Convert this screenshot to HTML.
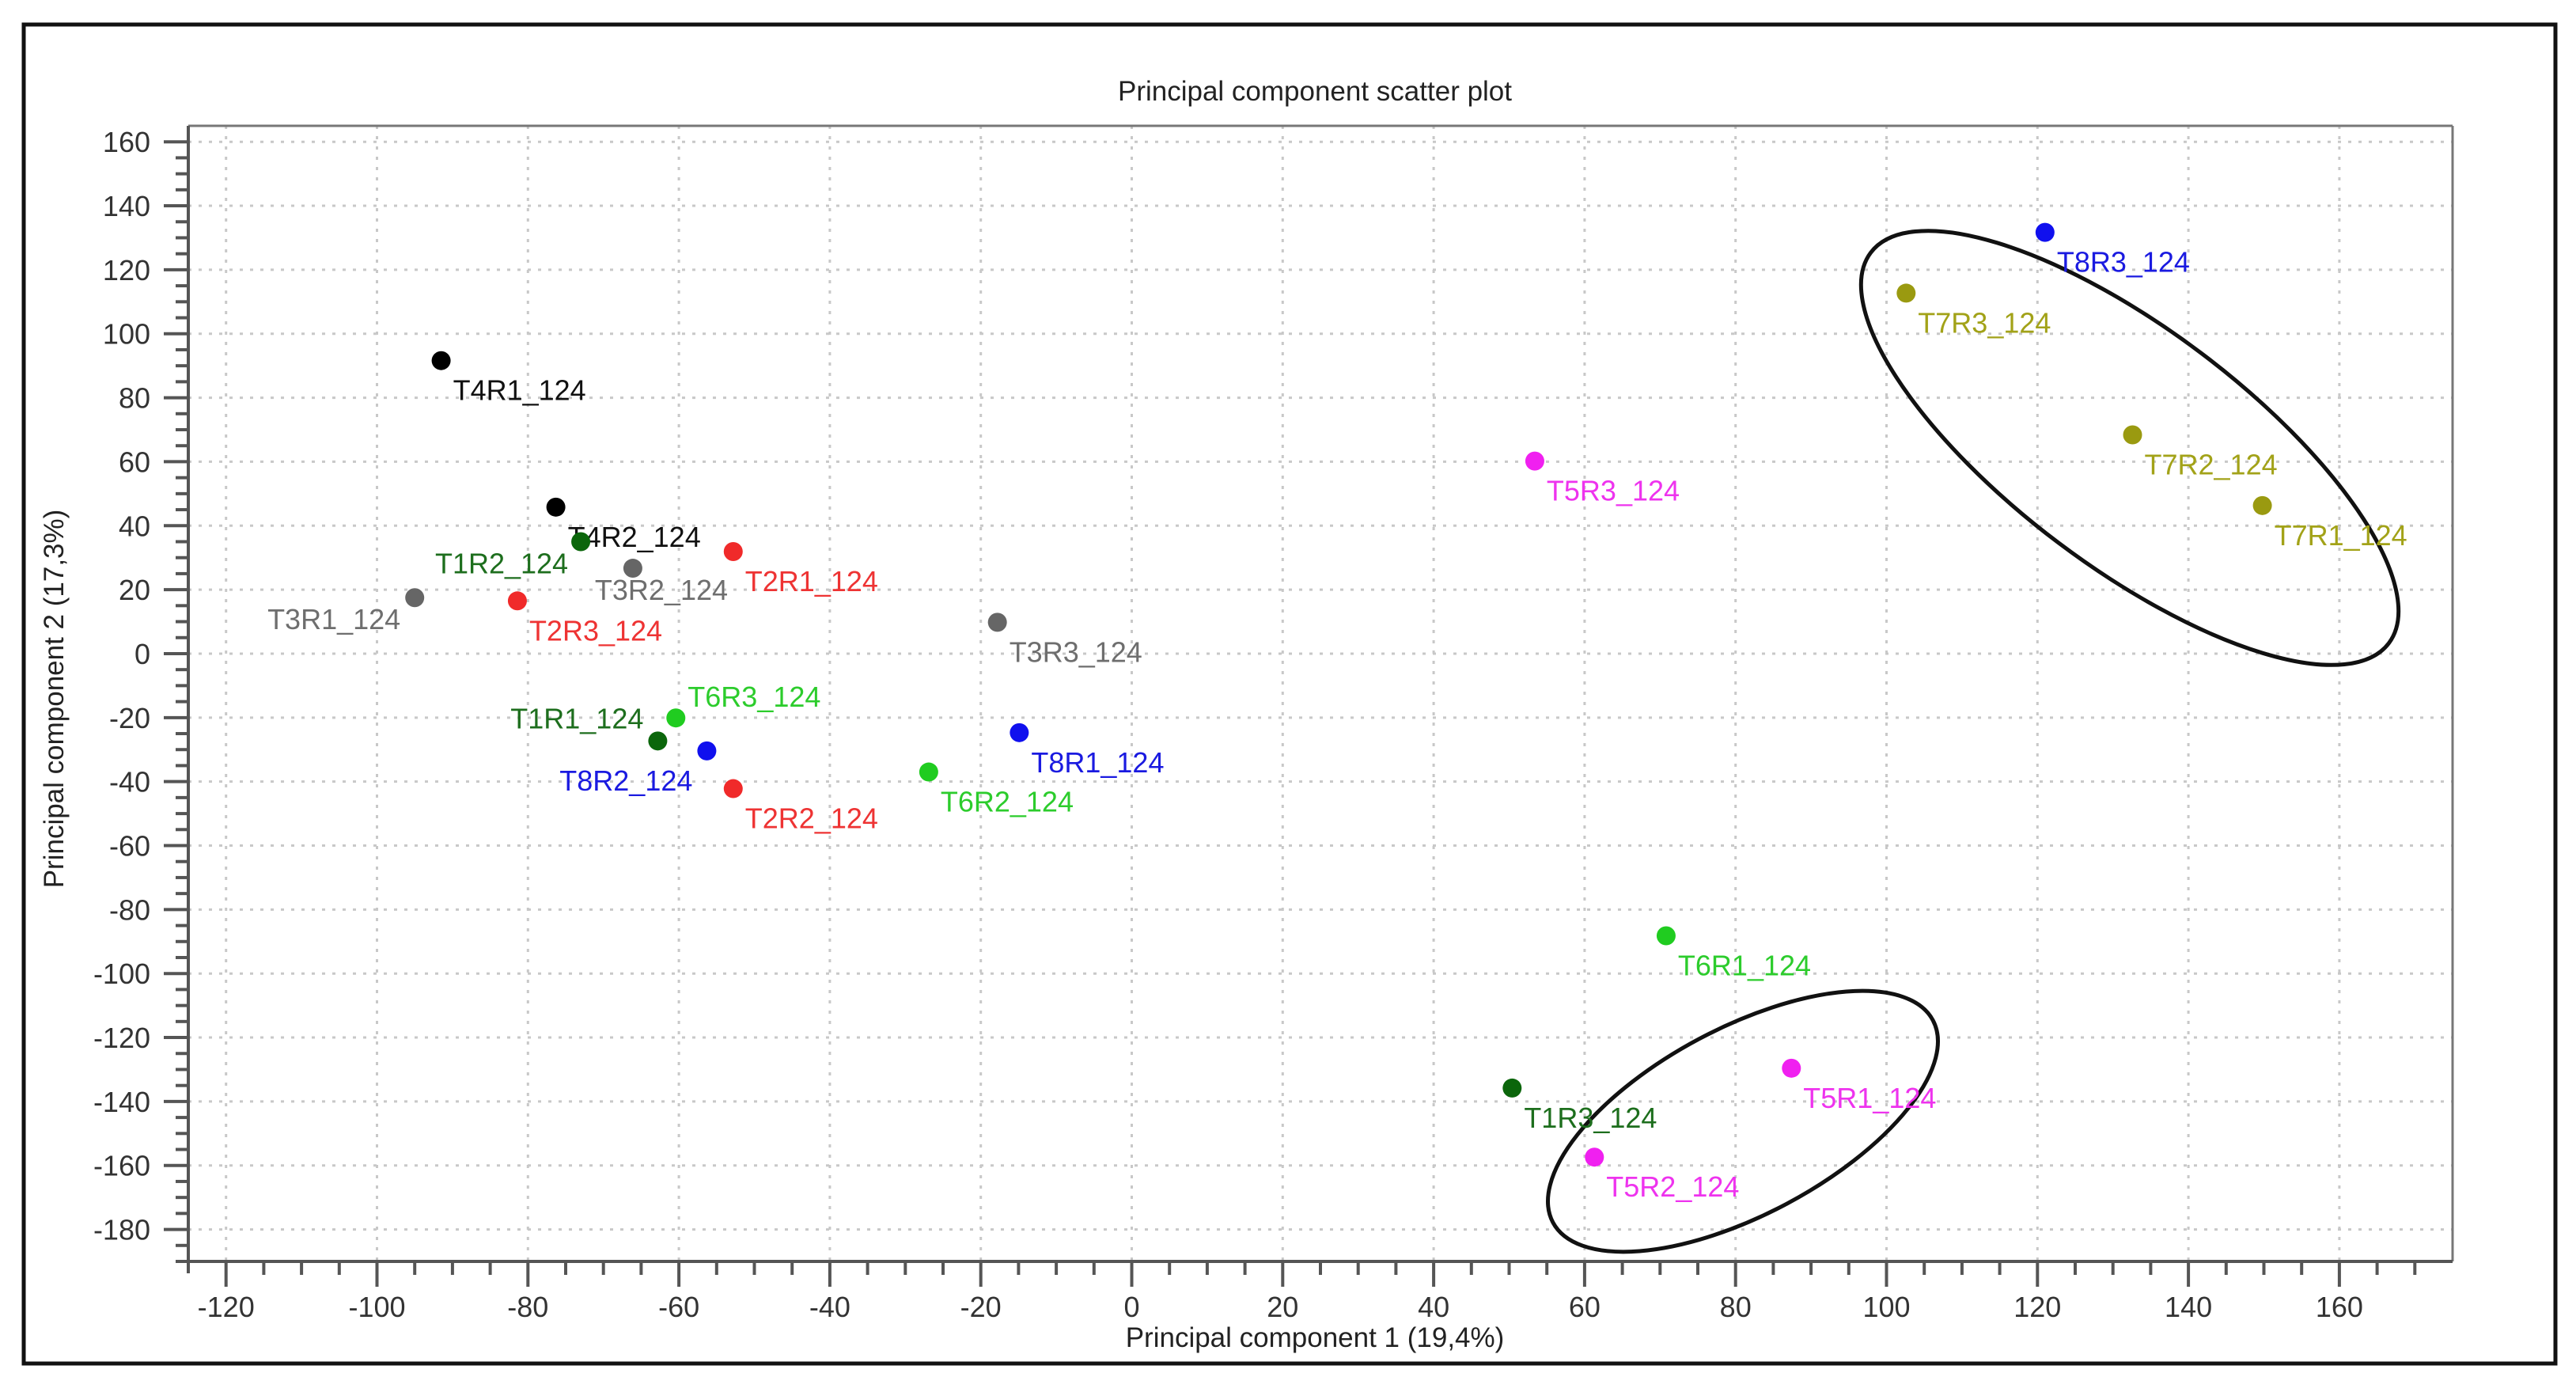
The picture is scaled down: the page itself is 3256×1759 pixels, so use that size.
<!DOCTYPE html>
<html><head><meta charset="utf-8">
<style>
html,body{margin:0;padding:0;background:#fff;}
svg{display:block;font-family:"Liberation Sans",Arial,sans-serif;}
</style></head>
<body>
<svg id="chart" width="3256" height="1759" viewBox="0 0 3256 1759" xmlns="http://www.w3.org/2000/svg">
  <rect x="0" y="0" width="3256" height="1759" fill="#fff"/>
  <rect x="30" y="31" width="3200" height="1692" fill="none" stroke="#111" stroke-width="5"/>
  <text x="1662" y="127" font-size="35" fill="#222" text-anchor="middle">Principal component scatter plot</text>
  <g id="grid"></g>
  <g id="axes"></g>
  <g id="ellipses"></g>
  <g id="points"></g>
  <text x="1662" y="1702" font-size="35" fill="#222" text-anchor="middle">Principal component 1 (19,4%)</text>
  <text x="0" y="0" font-size="35" fill="#222" text-anchor="middle" transform="translate(80,883) rotate(-90)">Principal component 2 (17,3%)</text>
</svg>
<script>
const sampleNames = ["T4R1_124","T4R2_124","T1R2_124","T3R2_124","T2R1_124","T3R1_124","T2R3_124","T3R3_124","T6R3_124","T1R1_124","T8R2_124","T2R2_124","T6R2_124","T8R1_124","T5R3_124","T8R3_124","T7R3_124","T7R2_124","T7R1_124","T6R1_124","T1R3_124","T5R1_124","T5R2_124"];
const pc1Values = [-91.5,-76.3,-73.0,-66.1,-52.8,-95.0,-81.4,-17.8,-60.4,-62.8,-56.3,-52.8,-26.9,-14.9,53.4,121.0,102.6,132.6,149.8,70.8,50.4,87.4,61.3];
const pc2Values = [91.6,45.8,35.0,26.7,31.9,17.5,16.5,9.8,-20.1,-27.3,-30.4,-42.2,-37.0,-24.7,60.2,131.7,112.7,68.4,46.3,-88.2,-135.8,-129.6,-157.4];
const groupNames = ["T4","T4","T1","T3","T2","T3","T2","T3","T6","T1","T8","T2","T6","T8","T5","T8","T7","T7","T7","T6","T1","T5","T5"];
const xTickValues = [-120,-100,-80,-60,-40,-20,0,20,40,60,80,100,120,140,160];
const yTickValues = [160,140,120,100,80,60,40,20,0,-20,-40,-60,-80,-100,-120,-140,-160,-180];
const xDomain = [-125,175];
const yDomain = [-190,165];
const ellipseCenters = [[curveX(2692),curveY(566)],[curveX(2203),curveY(1417)]];
function curveX(px){return xDomain[0]+(px-238)/(3100-238)*(xDomain[1]-xDomain[0]);}
function curveY(px){return yDomain[1]-(px-159)/(1594-159)*(yDomain[1]-yDomain[0]);}

const colors={T1:"#0b660b",T2:"#f02a2a",T3:"#666666",T4:"#000000",T5:"#f020f0",T6:"#20cc20",T7:"#9a9a10",T8:"#1010ee"};
const labelColors={T1:"#1d6e1d",T2:"#ee3333",T3:"#6e6e6e",T4:"#111111",T5:"#ee33ee",T6:"#2ccc2c",T7:"#a2a218",T8:"#1a1ae0"};
const L=238,R=3100,T=159,B=1594;
function sx(v){return L+(v-xDomain[0])/(xDomain[1]-xDomain[0])*(R-L);}
function sy(v){return B-(v-yDomain[0])/(yDomain[1]-yDomain[0])*(B-T);}
const NS="http://www.w3.org/2000/svg";
function mk(tag,attrs,parent){const e=document.createElementNS(NS,tag);for(const k in attrs)e.setAttribute(k,attrs[k]);parent.appendChild(e);return e;}
const grid=document.getElementById('grid'),axes=document.getElementById('axes'),pts=document.getElementById('points'),ell=document.getElementById('ellipses');

xTickValues.forEach(v=>{
  const g=mk('line',{x1:sx(v),x2:sx(v),y1:T,y2:B,stroke:"#c8c8c8","stroke-width":3,"stroke-dasharray":"4 9"},grid);
  
  
});
yTickValues.forEach(v=>{
  const g=mk('line',{x1:L,x2:R,y1:sy(v),y2:sy(v),stroke:"#c8c8c8","stroke-width":3,"stroke-dasharray":"4 9"},grid);
  
  
});
const tb=mk('line',{x1:L,x2:R,y1:T,y2:T,stroke:"#777","stroke-width":3},axes);


const rb=mk('line',{x1:R,x2:R,y1:T,y2:B,stroke:"#777","stroke-width":3},axes);


const xa=mk('line',{x1:222,x2:R,y1:B,y2:B,stroke:"#555","stroke-width":4},axes);


const ya=mk('line',{x1:L,x2:L,y1:T,y2:B+15,stroke:"#555","stroke-width":4},axes);


for(let v=xDomain[0]+5;v<xDomain[1];v+=5){
  const major=xTickValues.includes(v);
  const t=mk('line',{x1:sx(v),x2:sx(v),y1:B,y2:B+(major?32:17),stroke:"#555","stroke-width":4},axes);
  
  
}
for(let v=yDomain[0]+5;v<yDomain[1];v+=5){
  const major=yTickValues.includes(v);
  const t=mk('line',{x1:L-(major?31:16),x2:L,y1:sy(v),y2:sy(v),stroke:"#555","stroke-width":4},axes);
  
  
}
xTickValues.forEach(v=>{
  const t=mk('text',{x:sx(v),y:1664,"font-size":36,fill:"#333","text-anchor":"middle"},axes);
  t.textContent=String(v);
  
  
});
yTickValues.forEach(v=>{
  const t=mk('text',{x:190,y:sy(v)+13,"font-size":36,fill:"#333","text-anchor":"end"},axes);
  t.textContent=String(v);
  
  
});
const ellShapes=[[410,150,37],[272,118,-28]];
ellipseCenters.forEach((c,i)=>{
  const cx=sx(c[0]),cy=sy(c[1]);
  const e=mk('ellipse',{cx:cx,cy:cy,rx:ellShapes[i][0],ry:ellShapes[i][1],fill:"none",stroke:"#111","stroke-width":5,transform:`rotate(${ellShapes[i][2]} ${cx} ${cy})`},ell);
  
  
});
const labelPlace={"T3R2_124":["start",-48,40],"T3R1_124":["end",-18,40],"T1R2_124":["end",-16,40],"T6R3_124":["start",15,-14],"T1R1_124":["end",-18,-16],"T8R2_124":["end",-18,50]};
sampleNames.forEach((n,i)=>{
  const cx=sx(pc1Values[i]),cy=sy(pc2Values[i]);
  const c=mk('circle',{cx:cx,cy:cy,r:12,fill:colors[groupNames[i]]},pts);
  
  
  const p=labelPlace[n]||["start",15,50];
  const t=mk('text',{x:cx+p[1],y:cy+p[2],"font-size":36,fill:labelColors[groupNames[i]],"text-anchor":p[0]},pts);
  t.textContent=n;
  
  
});
</script>
</body></html>
